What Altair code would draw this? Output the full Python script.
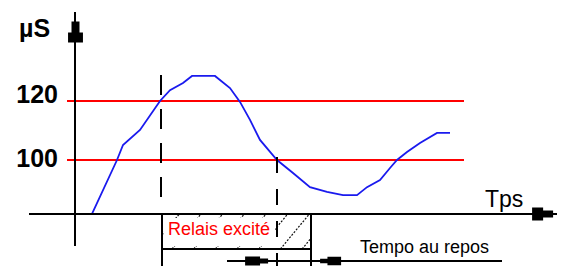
import altair as alt
import pandas as pd

# ---------------- data (time units, µS) ----------------
curve_t = [4.25, 10.5, 12.0, 16.25, 21.25, 23.75, 27.0, 29.25, 35.0, 38.75, 41.25,
           43.75, 46.25, 50.5, 54.5, 58.75, 63.0, 67.0, 70.5, 73.0, 76.25, 78.75,
           80.5, 83.0, 86.25, 90.5, 93.75]
curve_us = [81.7, 100.0, 105.1, 110.2, 120.0, 123.7, 126.1, 128.5, 128.5, 124.4, 119.7,
            113.6, 106.8, 100.0, 95.6, 90.8, 89.2, 88.1, 88.1, 90.8, 93.2, 97.3,
            100.0, 102.7, 105.8, 109.2, 109.2]

thresholds = [120, 100]
threshold_labels = ["120", "100"]
threshold_start = -2.0
threshold_end = 97.25

t_excite_start = 21.5     # relay excited at this time (first dashed line)
t_release = 50.5          # curve back under 100 (second dashed line)
t_repos_end = 59.0        # end of rest delay (box right edge)
axis_level = 81.7         # µS level of the time axis
box_bottom = 69.83
frame_bottom = 64.07

y_label = "µS"
x_label = "Tps"
relay_label = "Relais excité"
rest_label = "Tempo au repos"

X_DOMAIN = [-16.75, 120.5]
Y_DOMAIN = [64.07, 151.53]
W, H = 549, 258
FONT = "Liberation Sans"

xs = alt.Scale(domain=X_DOMAIN, nice=False, zero=False)
ys = alt.Scale(domain=Y_DOMAIN, nice=False, zero=False)


def seg_layer(df, **mark_kw):
    return alt.Chart(df).mark_rule(**mark_kw).encode(
        x=alt.X("t:Q", scale=xs, axis=None),
        x2="t2:Q",
        y=alt.Y("v:Q", scale=ys, axis=None),
        y2="v2:Q",
    )


# ---------------- hatch inside the box ----------------
hatch_step = 5.42
hatch_slant = 7.25
hatch_first = 24.25
hatch_rows = []
for n in range(-3, 8):
    b = hatch_first + hatch_step * n
    s0 = max(0.0, (t_excite_start + 0.25 - b) / hatch_slant)
    s1 = min(1.0, (t_repos_end - b) / hatch_slant)
    if s0 < s1:
        hatch_rows.append(dict(
            t=b + hatch_slant * s0, v=box_bottom + (axis_level - box_bottom) * s0,
            t2=b + hatch_slant * s1, v2=box_bottom + (axis_level - box_bottom) * s1))
hatch = seg_layer(pd.DataFrame(hatch_rows), color="#111111", strokeWidth=1.2,
                  strokeDash=[2, 1.5])

white = alt.Chart(pd.DataFrame([dict(t=22.25, t2=50.0, v=80.34, v2=70.85)])).mark_rect(
    color="white").encode(
    x=alt.X("t:Q", scale=xs, axis=None), x2="t2:Q",
    y=alt.Y("v:Q", scale=ys, axis=None), y2="v2:Q")

# ---------------- thresholds ----------------
thr_df = pd.DataFrame(dict(t=[threshold_start] * 2, t2=[threshold_end] * 2,
                           v=thresholds, v2=thresholds))
thr = seg_layer(thr_df, color="#ff0000", strokeWidth=2)

# ---------------- curve ----------------
curve = alt.Chart(pd.DataFrame(dict(t=curve_t, us=curve_us))).mark_line(
    color="#1a1aee", strokeWidth=1.8).encode(
    x=alt.X("t:Q", scale=xs, axis=None),
    y=alt.Y("us:Q", scale=ys, axis=None))

# ---------------- solid black lines ----------------
solid_df = pd.DataFrame([
    dict(t=0.0, t2=0.0, v=150.17, v2=70.85),                       # y axis
    dict(t=-11.5, t2=120.5, v=axis_level, v2=axis_level),          # time axis
    dict(t=38.0, t2=106.75, v=65.76, v2=65.76),                    # rest line
    dict(t=21.75, t2=21.75, v=axis_level, v2=frame_bottom),        # box left
    dict(t=t_repos_end, t2=t_repos_end, v=axis_level, v2=frame_bottom),  # box right
    dict(t=21.75, t2=t_repos_end, v=box_bottom, v2=box_bottom),    # box bottom
])
solid = seg_layer(solid_df, color="black", strokeWidth=2)

dash1 = seg_layer(pd.DataFrame([dict(t=t_excite_start, t2=t_excite_start,
                                     v=128.8, v2=87.12)]),
                  color="black", strokeWidth=2, strokeDash=[20, 14])
dash2 = seg_layer(pd.DataFrame([dict(t=t_release, t2=t_release,
                                     v=101.0, v2=frame_bottom)]),
                  color="black", strokeWidth=2, strokeDash=[16, 16])

# ---------------- arrow heads ----------------
UP = "M-0.38,-1L0.38,-1L0.38,0.05L0.71,0.05L0.71,1L-0.71,1L-0.71,0.05L-0.38,0.05Z"
RIGHT = "M-1,-0.62L0.05,-0.62L0.05,-0.33L1,-0.33L1,0.33L0.05,0.33L0.05,0.62L-1,0.62Z"
RIGHT_S = "M-1,-0.4L0.3,-0.4L0.3,-0.22L1,-0.22L1,0.22L0.3,0.22L0.3,0.4L-1,0.4Z"
LEFT_S = "M1,-0.4L-0.3,-0.4L-0.3,-0.22L-1,-0.22L-1,0.22L-0.3,0.22L-0.3,0.4L1,0.4Z"


def arrow(t, v, shape, size):
    return alt.Chart(pd.DataFrame(dict(t=[t], v=[v]))).mark_point(
        shape=shape, filled=True, size=size, color="black", opacity=1,
        strokeWidth=0).encode(
        x=alt.X("t:Q", scale=xs, axis=None), y=alt.Y("v:Q", scale=ys, axis=None))


arrows = [
    arrow(0.125, 143.4, UP, 441),
    arrow(116.9, axis_level, RIGHT, 441),
    arrow(45.4, 65.76, RIGHT_S, 529),
    arrow(63.9, 65.76, LEFT_S, 441),
]

# ---------------- texts ----------------
def txt(t, v, s, size, color="black", weight="normal", align="left"):
    return alt.Chart(pd.DataFrame(dict(t=[t], v=[v], s=[s]))).mark_text(
        font=FONT, fontSize=size, fontWeight=weight, color=color, align=align,
        baseline="alphabetic").encode(
        x=alt.X("t:Q", scale=xs, axis=None), y=alt.Y("v:Q", scale=ys, axis=None),
        text="s:N")


texts = [
    txt(-14.0, 141.69, y_label, 25, weight="bold"),
    txt(-4.25, 119.32, threshold_labels[0], 25, weight="bold", align="right"),
    txt(-4.25, 97.63, threshold_labels[1], 25, weight="bold", align="right"),
    txt(102.5, 84.07, x_label, 23),
    txt(23.25, 74.5, relay_label, 18, color="#ff0000"),
    txt(71.25, 68.4, rest_label, 18),
]

chart = alt.layer(hatch, white, thr, curve, solid, dash1, dash2, *arrows, *texts).properties(
    width=W, height=H, padding=0,
    autosize=alt.AutoSizeParams(type="none"),
).configure_view(stroke=None)

chart.save("out.html", embed_options={"renderer": "svg", "actions": False})
